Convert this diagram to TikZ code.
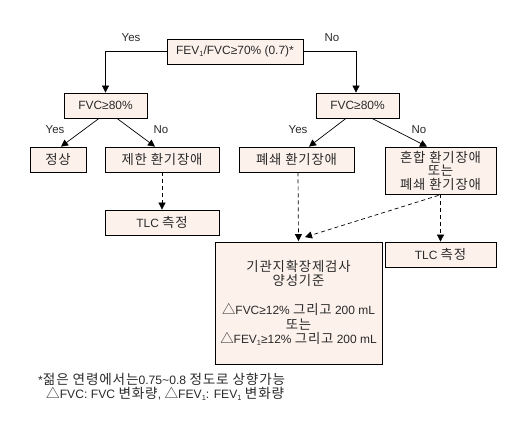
\documentclass[tikz,border=0pt]{standalone}
\usepackage{fontspec}
\setmainfont{Liberation Sans}
\newfontfamily\kr[Scale=1.12,LetterSpace=6]{Noto Sans CJK KR}
\usetikzlibrary{arrows.meta,calc}
\newcommand\lowone{\raisebox{-0.35ex}{\fontsize{7.5}{7.5}\selectfont 1}}
\definecolor{boxfill}{HTML}{FDF1EB}
\definecolor{txt}{HTML}{2A2A2A}
\tikzset{
  box/.style={draw=black, line width=0.8pt, fill=boxfill, inner sep=0pt, align=center,
    text=txt, font=\fontsize{12}{13.5}\selectfont},
  lbl/.style={inner sep=0pt, text=txt, font=\fontsize{11.5}{13}\selectfont},
  conn/.style={line width=0.7pt, -{Triangle[length=7bp,width=7bp]}},
  dconn/.style={conn, dash pattern=on 4bp off 3bp},
  note/.style={inner sep=0pt, anchor=west, text=txt, font=\fontsize{12.2}{12}\selectfont}
}
\begin{document}
\begin{tikzpicture}[x=1bp,y=-1bp]
\useasboundingbox (0,0) rectangle (509,425);
\node[box, minimum width=136bp, minimum height=25bp] (top) at (235,51.5) {FEV\lowone/FVC≥70\% (0.7)*};
\node[box, minimum width=83bp, minimum height=25bp] (fvcL) at (105.5,105.5) {FVC≥80\%};
\node[box, minimum width=83bp, minimum height=25bp] (fvcR) at (357.5,105.5) {FVC≥80\%};
\node[box, minimum width=56bp, minimum height=25bp] (normal) at (58,159.5) {\kr 정상};
\node[box, minimum width=114bp, minimum height=25bp] (restr) at (162,159.5) {\kr 제한 환기장애};
\node[box, minimum width=115bp, minimum height=25bp] (obstr) at (296.5,159.5) {\kr 폐쇄 환기장애};
\node[box, minimum width=111bp, minimum height=47bp] (mixed) at (440.5,170.5) {\kr 혼합 환기장애\\\kr 또는\\\kr 폐쇄 환기장애};
\node[box, minimum width=114bp, minimum height=25bp] (tlcA) at (162,222.5) {TLC {\kr 측정}};
\node[box, minimum width=111bp, minimum height=25bp] (tlcB) at (440.5,254.5) {TLC {\kr 측정}};
\node[box, minimum width=167bp, minimum height=122bp, font=\fontsize{12}{14.5}\selectfont] (bdt) at (298.5,303)
  {\kr 기관지확장제검사\\\kr 양성기준\\[14.5bp]{\kr △}FVC≥12\% {\kr 그리고} 200 mL\\\kr 또는\\{\kr △}FEV\lowone≥12\% {\kr 그리고} 200 mL};

\node[lbl] (yes0) at (131,38) {Yes};
\node[lbl] (no0) at (332,38) {No};
\node[lbl] (yes1) at (55,130) {Yes};
\node[lbl] (no1) at (161,130) {No};
\node[lbl] (yes2) at (298,130) {Yes};
\node[lbl] (no2) at (419,130) {No};

\draw[conn] (top.west) -| (fvcL.north);
\draw[conn] (top.east) -| ($(fvcR.north)+(-1.5,0)$);
\draw[conn] ($(fvcL.south)+(-6.5,0)$) -- ($(normal.north)+(3,0)$);
\draw[conn] ($(fvcL.south)+(11.5,0)$) -- ($(restr.north)+(-7,0)$);
\draw[conn] ($(fvcR.south)+(-11.5,0)$) -- ($(obstr.north)+(12.5,0)$);
\draw[conn] ($(fvcR.south)+(14.5,0)$) -- ($(mixed.north)+(-13.5,0)$);

\draw[dconn] (restr.south) -- (tlcA.north);
\draw[dconn] ($(obstr.south)+(1.5,0)$) -- ($(bdt.north)+(0,-0.5)$);
\draw[dconn] (mixed.south) -- (tlcB.north);
\coordinate (dstart) at ($(mixed.south)+(-2,1)$);
\draw[dconn] (dstart) -- ($(bdt.north)+(6.5,-4.5)$);

\node[note] (fn1) at (38,379) {*{\kr 젊은 연령에서는}0.75\textasciitilde 0.8 {\kr 정도로 상향가능}};
\node[note] (fn2) at (46,394) {{\kr △}FVC: FVC {\kr 변화량}, {\kr △}FEV\lowone: FEV\lowone{} {\kr 변화량}};
\end{tikzpicture}
\end{document}
